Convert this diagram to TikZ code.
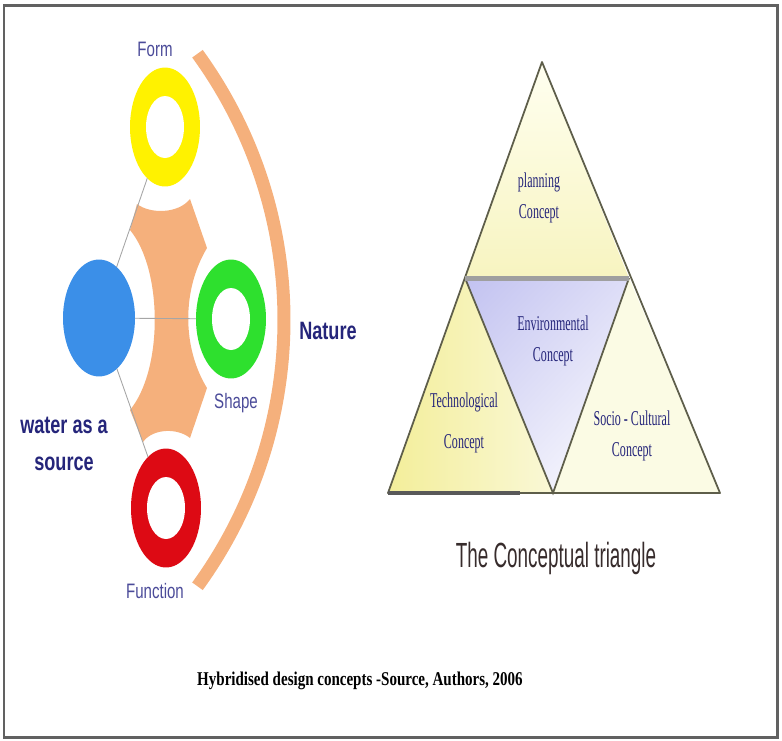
\documentclass[tikz,border=0pt]{standalone}
\usepackage{fontspec}
\usetikzlibrary{shapes.geometric,shadings}
\newfontfamily\labelsans[FakeStretch=0.72]{Liberation Sans}
\newfontfamily\titlesans[FakeStretch=0.54]{Liberation Sans}
\newfontfamily\conceptserif[FakeStretch=0.57]{Liberation Serif}
\newfontfamily\captionserif[FakeStretch=0.77]{Liberation Serif}
\definecolor{peach}{HTML}{F5B07C}
\definecolor{ringyellow}{HTML}{FFF200}
\definecolor{ringgreen}{HTML}{2EE02E}
\definecolor{ringred}{HTML}{DD0A14}
\definecolor{waterblue}{HTML}{3B8FE8}
\definecolor{navy}{HTML}{25257A}
\definecolor{lblue}{HTML}{4B4B99}
\definecolor{edgegray}{HTML}{5E5E4A}
\definecolor{tritop}{HTML}{FFFFF0}
\definecolor{tribot}{HTML}{F7F4C0}
\definecolor{techl}{HTML}{F3EE9A}
\definecolor{techr}{HTML}{FAF8D6}
\definecolor{envl}{HTML}{C2C2F0}
\definecolor{socio}{HTML}{FBFBE4}
\definecolor{titlegray}{HTML}{372C2C}
\tikzset{
  ring/.style={ellipse, inner sep=0pt, outer sep=0pt, minimum width=1.4cm, minimum height=2.38cm},
  link/.style={gray!70, line width=0.5pt},
  band/.style={peach, line width=0.26cm},
  ringlabel/.style={text=lblue, font=\labelsans\fontsize{11.9}{14}\selectfont},
  boldlabel/.style={text=navy, align=center, font=\labelsans\bfseries\fontsize{14.3}{21}\selectfont},
  concept/.style={text=navy, align=center, font=\conceptserif\fontsize{12}{17.6}\selectfont},
}

\begin{document}
\begin{tikzpicture}[x=0.02cm, y=-0.02cm]
  \useasboundingbox (0,0) rectangle (782,741);
  \draw[black!62, line width=0.06cm] (4,5) rectangle (777,737); % frame

  % left: water as a source
  \fill[peach] (130,230) -- (137,204) .. controls (150,214) and (178,214) .. (190,199)
    -- (207,248) .. controls (182,290) and (182,347) .. (207,388)
    -- (190,438) .. controls (178,428) and (153,428) .. (143,442)
    -- (130,410) .. controls (163,370) and (163,270) .. cycle;
  \draw[band] (-169,320) ++(-36:453) arc[start angle=-36, end angle=36, radius=453]; % nature

  \node[ring, fill=waterblue, minimum width=1.44cm, minimum height=2.34cm] (water) at (99,318) {};
  \node[ring, fill=ringyellow] (form) at (165,127) {};
  \node[ring, fill=ringgreen] (shape) at (231,319) {};
  \node[ring, fill=ringred] (function) at (166,508) {};
  \foreach \r in {form,shape,function}
    \fill[white] (\r.center) ellipse[x radius=19, y radius=31];

  \draw[link] (water) -- (form);
  \draw[link] (water) -- (shape);
  \draw[link] (water) -- (function);

  \node[ringlabel] (formlbl) at (155,49) {Form};
  \node[ringlabel] (shapelbl) at (236,403) {Shape};
  \node[ringlabel] (functionlbl) at (155,591) {Function};
  \node[boldlabel] (naturelbl) at (328,331) {Nature};
  \node[boldlabel] (waterlbl) at (64,444) {water as a\\source};

  % right: the conceptual triangle
  \coordinate (apex) at (542,62);
  \coordinate (ml) at (465,278);
  \coordinate (mr) at (629,278);
  \coordinate (bl) at (388,493);
  \coordinate (bm) at (553,493);
  \coordinate (br) at (720,493);
  \coordinate (bd) at (520,493);

  \shade[top color=tritop, bottom color=tribot] (apex) -- (ml) -- (mr) -- cycle;
  \shade[left color=techl, right color=techr] (ml) -- (bl) -- (bm) -- cycle;
  \shade[upper left=envl, upper right=envl!55, lower left=envl!45, lower right=white] (ml) -- (mr) -- (bm) -- cycle;
  \fill[socio] (mr) -- (bm) -- (br) -- cycle;

  \draw[edgegray, line width=1pt, line join=round] (apex) -- (bl) -- (br) -- cycle;
  \draw[edgegray, line width=1pt] (ml) -- (bm) -- (mr);
  \draw[gray!75, line width=0.1cm] (ml) -- (mr);
  \draw[black!65, line width=0.09cm] (bl) -- (bd);

  \node[concept] (planning) at (539,198) {planning\\Concept};
  \node[concept] (environmental) at (553,341) {Environmental\\Concept};
  \node[concept, font=\conceptserif\fontsize{12}{23}\selectfont] (technological) at (464,423) {Technological\\Concept};
  \node[concept] (sociocultural) at (632,436) {Socio - Cultural\\Concept};

  \node[text=titlegray, font=\titlesans\fontsize{19.9}{24}\selectfont] (title) at (556,558) {The Conceptual triangle};
  \node[font=\captionserif\bfseries\fontsize{11.1}{13}\selectfont] (caption) at (360,681) {Hybridised design concepts -Source, Authors, 2006};
\end{tikzpicture}
\end{document}
